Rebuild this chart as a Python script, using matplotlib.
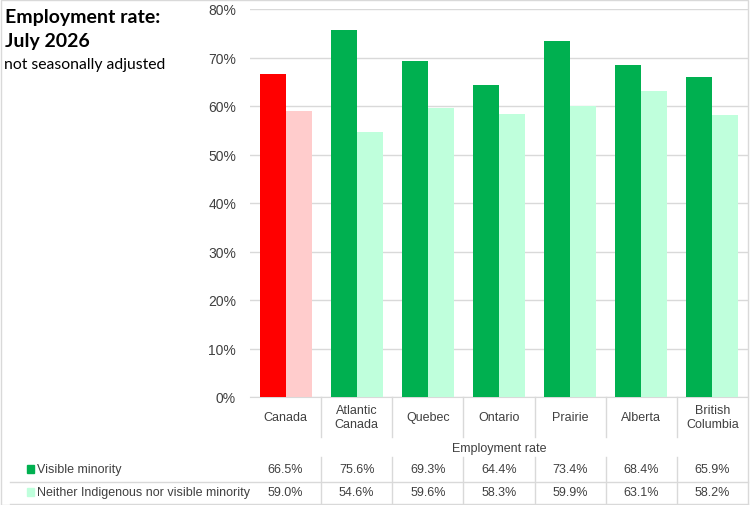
import matplotlib
matplotlib.use("Agg")
import matplotlib.pyplot as plt
import matplotlib.transforms as mtransforms
import numpy as np

# data
regions = ["Canada", "Atlantic\nCanada", "Quebec", "Ontario", "Prairie", "Alberta", "British\nColumbia"]
visible_minority = [66.5, 75.6, 69.3, 64.4, 73.4, 68.4, 65.9]
neither = [59.0, 54.6, 59.6, 58.3, 59.9, 63.1, 58.2]
series_names = ["Visible minority", "Neither Indigenous nor visible minority"]
yticks = [0, 10, 20, 30, 40, 50, 60, 70, 80]

dark_green = "#00B050"
light_green = "#BFFFDC"
red = "#FF0000"
pink = "#FFCCCC"

# Excel uses a narrow face here; Liberation Sans at a small size comes closest
narrow = "Liberation Sans"

W, H = 750, 506
fig = plt.figure(figsize=(W / 100, H / 100), dpi=100)
ax = fig.add_axes([250 / W, 1 - 398 / H, 498 / W, 388 / H])

x = np.arange(len(regions))
bw = 0.365
c1 = [red] + [dark_green] * (len(regions) - 1)
c2 = [pink] + [light_green] * (len(regions) - 1)
ax.bar(x - bw / 2, visible_minority, bw, color=c1, zorder=3)
ax.bar(x + bw / 2, neither, bw, color=c2, zorder=3)

ax.set_xlim(-0.5, len(regions) - 0.5)
ax.set_ylim(0, 80)
ax.set_yticks(yticks)
ax.set_yticklabels([f"{v}%" for v in yticks], fontsize=10, family=narrow, color="#404040")
ax.yaxis.grid(True, color="#D9D9D9", lw=1)
ax.set_xticks([])
ax.tick_params(axis="y", length=0, pad=10)
for s in ["top", "right", "left"]:
    ax.spines[s].set_visible(False)
ax.spines["bottom"].set_color("#D9D9D9")

# data table below the axes
trans = mtransforms.blended_transform_factory(ax.transData, fig.transFigure)
fy = lambda py: 1 - py / H
tc = "#404040"
lc = "#D9D9D9"
fs = 9
for i, r in enumerate(regions):
    ax.text(i, fy(418), r, transform=trans, ha="center", va="center",
            fontsize=fs, family=narrow, color=tc, linespacing=1.2)
    ax.text(i, fy(470), f"{visible_minority[i]:.1f}%", transform=trans, ha="center",
            va="center", fontsize=fs, family=narrow, color=tc)
    ax.text(i, fy(493), f"{neither[i]:.1f}%", transform=trans, ha="center",
            va="center", fontsize=fs, family=narrow, color=tc)
for i in range(1, len(regions)):
    xv = i - 0.5
    ax.plot([xv, xv], [fy(398), fy(438)], transform=trans, color=lc, lw=1, clip_on=False)
    ax.plot([xv, xv], [fy(458), fy(505)], transform=trans, color=lc, lw=1, clip_on=False)
ax.text(3, fy(449), "Employment rate", transform=trans, ha="center", va="center",
        fontsize=fs, family=narrow, color=tc)

fig.add_artist(plt.Line2D([10 / W, 748 / W], [fy(483), fy(483)], color=lc, lw=1))
fig.add_artist(plt.Line2D([10 / W, 748 / W], [fy(505), fy(505)], color=lc, lw=1))

# legend keys in the table
for yy, col, name in [(470, dark_green, series_names[0]), (493, light_green, series_names[1])]:
    fig.add_artist(plt.Rectangle((27 / W, fy(yy + 4)), 7 / W, 8 / H, color=col,
                                 transform=fig.transFigure))
    fig.text(37 / W, fy(yy), name, ha="left", va="center", fontsize=fs,
             family=narrow, color=tc)

# titles
fig.text(5 / W, fy(17), "Employment rate:", ha="left", va="center",
         fontsize=14, fontweight="bold", family="Lato")
fig.text(5 / W, fy(42), "July 2026", ha="left", va="center",
         fontsize=14, fontweight="bold", family="Lato")
fig.text(4 / W, fy(65), "not seasonally adjusted", ha="left", va="center",
         fontsize=11.3, family="Lato")

# chart border
fig.add_artist(plt.Rectangle((0.5 / W, 0.5 / H), 747 / W, (H - 1) / H, fill=False,
                             edgecolor="#D9D9D9", lw=1, transform=fig.transFigure))

fig.savefig("out.png", dpi=100)
